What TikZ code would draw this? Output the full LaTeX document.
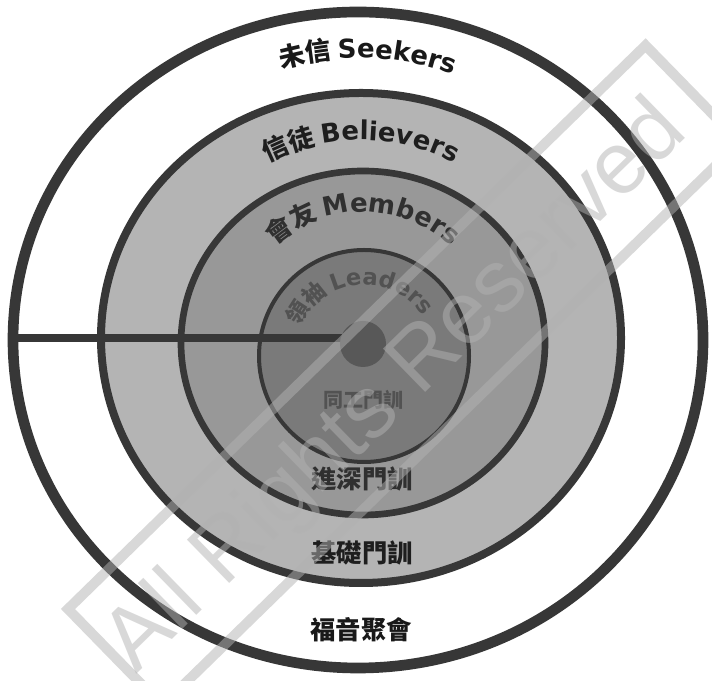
\documentclass[tikz,border=0pt]{standalone}
\usepackage{fontspec}
\usetikzlibrary{decorations.text}
\newfontfamily\cjkf{Noto Sans CJK TC}
\newfontfamily\latf{DejaVu Sans}
\newfontfamily\wmf{Liberation Sans}
\definecolor{ringc}{RGB}{55,55,55}
\definecolor{believc}{RGB}{180,180,180}
\definecolor{memberc}{RGB}{152,152,152}
\definecolor{leaderc}{RGB}{122,122,122}
\definecolor{dotc}{RGB}{88,88,88}
\definecolor{wmc}{RGB}{178,178,178}
\definecolor{txtA}{RGB}{25,25,25}
\definecolor{txtB}{RGB}{30,30,30}
\definecolor{txtC}{RGB}{48,48,48}
\definecolor{txtD}{RGB}{82,82,82}
\newcommand\seekA{\fontsize{19.5pt}{20pt}\selectfont\cjkf\bfseries\color{txtA}}
\newcommand\seekL{\fontsize{19.5pt}{20pt}\selectfont\latf\bfseries\color{txtA}}
\newcommand\belA{\fontsize{19.5pt}{20pt}\selectfont\cjkf\bfseries\color{txtB}}
\newcommand\belL{\fontsize{19.5pt}{20pt}\selectfont\latf\bfseries\color{txtB}}
\newcommand\memA{\fontsize{19.5pt}{20pt}\selectfont\cjkf\bfseries\color{txtC}}
\newcommand\memL{\fontsize{19.5pt}{20pt}\selectfont\latf\bfseries\color{txtC}}
\newcommand\leaA{\fontsize{17pt}{18pt}\selectfont\cjkf\bfseries\color{txtD}}
\newcommand\leaL{\fontsize{17pt}{18pt}\selectfont\latf\bfseries\color{txtD}}
\tikzset{
  ringline/.style={draw=ringc},
  arctext/.style={decorate},
  cjklabel/.style={inner sep=0pt, font=\fontsize{19pt}{20pt}\selectfont\cjkf\bfseries},
  wmline/.style={draw=wmc, draw opacity=0.5, line width=7.5pt},
}
\begin{document}
\begin{tikzpicture}[x=0.75pt,y=0.75pt]
\useasboundingbox (0,0) rectangle (712,680);
\fill[white] (0,0) rectangle (712,680);
% rings
\draw[ringline, line width=8pt, fill=white] (358,340) ellipse [x radius=345, y radius=328];
\draw[ringline, line width=6pt, fill=believc] (361,342) ellipse [x radius=260, y radius=245];
\draw[ringline, line width=5pt, fill=memberc] (363,337) ellipse [x radius=182, y radius=172];
\draw[ringline, line width=3pt, fill=leaderc] (364,324) ellipse [x radius=105, y radius=106];
% connector
\coordinate (lineL) at (13,342);
\coordinate (corec) at (363,336);
\draw[ringc, line width=6pt] (lineL) -- (lineL -| corec);
\node[circle, fill=dotc, minimum size=34.5pt, inner sep=0pt] (core) at (corec) {};
% arc texts
\path[arctext, decoration={text along path, text align=center,
   text={|\seekA|未信 |\seekL|Seekers}}]
   (358,340) ++(160:282) arc[start angle=160, end angle=16, radius=282];
\path[arctext, decoration={text along path, text align=center,
   text={|\belA|信徒 |\belL|Believers}}]
   (361,342) ++(165:198) arc[start angle=165, end angle=15, radius=198];
\path[arctext, decoration={text along path, text align=center,
   text={|\memA|會友 |\memL|Members}}]
   (363,337) ++(170:131) arc[start angle=170, end angle=10, radius=131];
\path[arctext, decoration={text along path, text align=center,
   text={|\leaA|領袖 |\leaL|Leaders}}]
   (364,324) ++(185:71) arc[start angle=185, end angle=5, radius=71];
% straight labels
\node[cjklabel, text=txtD, font=\fontsize{15pt}{16pt}\selectfont\cjkf\bfseries] (tLead) at (363,280) {同工門訓};
\node[cjklabel, text=txtC] (tMem) at (362,201) {進深門訓};
\node[cjklabel, text=txtB] (tBel) at (362,127) {基礎門訓};
\node[cjklabel, text=txtA] (tSeek) at (361,50) {福音聚會};
% watermark
\begin{scope}[shift={(68,71)}, rotate=44.3]
\draw[wmline] (0,0) rectangle (807,-135);
\node[rotate=44.3, text=wmc, text opacity=0.5, inner sep=0pt,
      font=\wmf\fontsize{66pt}{70pt}\selectfont] (wm) at (390,-72) {All Rights Reserved};
\end{scope}
\end{tikzpicture}
\end{document}
